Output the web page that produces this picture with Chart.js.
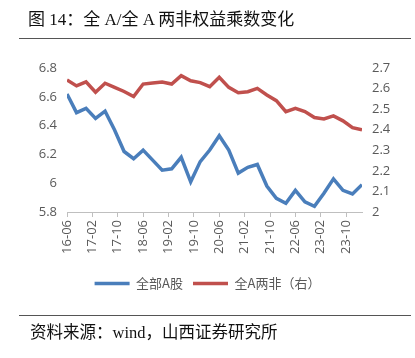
<!DOCTYPE html>
<html>
<head>
<meta charset="utf-8">
<script src="https://cdn.jsdelivr.net/npm/chart.js@4/dist/chart.umd.min.js"></script>
<style>
  html, body { margin: 0; padding: 0; background: #ffffff; }
  #wrap { position: relative; width: 415px; height: 358px; overflow: hidden; }
  #c { position: absolute; left: 0; top: 0; }
  .title { position: absolute; left: 28px; top: 8px; font-family: "Liberation Serif", "Noto Sans CJK SC", serif; font-size: 17px; color: #111; white-space: nowrap; line-height: 24px; }
  .rule { position: absolute; left: 19px; width: 392px; height: 1px; background: #555; }
  .source { position: absolute; left: 30px; top: 321px; font-family: "Liberation Serif", "Noto Sans CJK SC", serif; font-size: 16.5px; color: #111; white-space: nowrap; line-height: 24px; }
</style>
</head>
<body>
<div id="wrap">
  <canvas id="c" width="415" height="358"></canvas>
  <div class="title">图 14：全 A/全 A 两非权益乘数变化</div>
  <div class="rule" style="top:38px"></div>
  <div class="rule" style="top:315px"></div>
  <div class="source">资料来源：wind，山西证券研究所</div>
</div>
<script>
// Quarterly observation dates (YY-MM)
const dates = ['16-06','16-09','16-12','17-03','17-06','17-09','17-12','18-03','18-06','18-09','18-12','19-03',
               '19-06','19-09','19-12','20-03','20-06','20-09','20-12','21-03','21-06','21-09','21-12','22-03',
               '22-06','22-09','22-12','23-03','23-06','23-09','23-12','24-03'];
// 全部A股 (left axis)
const allA = [6.62, 6.49, 6.52, 6.45, 6.50, 6.37, 6.22, 6.17, 6.23, 6.16, 6.09, 6.10,
              6.18, 6.01, 6.15, 6.23, 6.33, 6.23, 6.07, 6.11, 6.13, 5.98, 5.895, 5.86,
              5.95, 5.87, 5.84, 5.93, 6.03, 5.95, 5.925, 5.99];
// 全A两非 (right axis)
const allAExFin = [2.642, 2.613, 2.633, 2.582, 2.626, 2.606, 2.586, 2.561, 2.622, 2.627, 2.632, 2.622,
                   2.663, 2.638, 2.629, 2.609, 2.655, 2.606, 2.580, 2.585, 2.601, 2.569, 2.541, 2.488,
                   2.504, 2.488, 2.459, 2.452, 2.467, 2.443, 2.410, 2.399];
// x-axis tick labels
const xTickLabels = ['16-06','17-02','17-10','18-06','19-02','19-10','20-06','21-02','21-10','22-06','23-02','23-10'];
const seriesNames = ['全部A股', '全A两非（右）'];

function monthIndex(s) {
  const [yy, mm] = s.split('-').map(Number);
  return (yy - 16) * 12 + (mm - 6);
}

const tickFont = { family: '"Open Sans", "Noto Sans CJK SC", sans-serif', size: 13 };
const grey = '#595959';
const fmt = v => String(Number(v.toFixed(1)));

new Chart(document.getElementById('c'), {
  type: 'line',
  data: {
    datasets: [
      {
        label: seriesNames[0],
        data: dates.map((d, i) => ({ x: monthIndex(d), y: allA[i] })),
        borderColor: '#4A7EBB', backgroundColor: '#4A7EBB',
        borderWidth: 3.5, pointRadius: 0, tension: 0, yAxisID: 'y'
      },
      {
        label: seriesNames[1],
        data: dates.map((d, i) => ({ x: monthIndex(d), y: allAExFin[i] })),
        borderColor: '#C0504D', backgroundColor: '#C0504D',
        borderWidth: 3.5, pointRadius: 0, tension: 0, yAxisID: 'y2'
      }
    ]
  },
  options: {
    responsive: false,
    animation: false,
    devicePixelRatio: 1,
    layout: { padding: { top: 68, bottom: 58, left: 0, right: 0 } },
    plugins: {
      legend: {
        position: 'bottom',
        labels: {
          usePointStyle: true, pointStyle: 'line', pointStyleWidth: 35,
          color: grey, padding: 10,
          font: { family: '"Noto Sans CJK SC", sans-serif', size: 13 }
        }
      },
      tooltip: { enabled: false }
    },
    scales: {
      x: {
        type: 'linear',
        min: monthIndex(dates[0]),
        max: monthIndex(dates[dates.length - 1]),
        afterBuildTicks: s => { s.ticks = xTickLabels.map(l => ({ value: monthIndex(l) })); },
        afterFit: s => { s.height = 55; },
        ticks: {
          autoSkip: false, minRotation: 90, maxRotation: 90, padding: 3,
          color: grey, font: tickFont,
          callback: v => { const i = xTickLabels.findIndex(l => monthIndex(l) === v); return i >= 0 ? xTickLabels[i] : ''; }
        },
        grid: { drawOnChartArea: false, drawTicks: true, tickLength: 5, color: '#bfbfbf' },
        border: { color: '#bfbfbf' }
      },
      y: {
        position: 'left', min: 5.8, max: 6.8,
        afterFit: s => { s.width = 67; },
        ticks: { stepSize: 0.2, padding: 10, color: grey, font: tickFont, callback: fmt },
        grid: { display: false, drawTicks: false },
        border: { display: false }
      },
      y2: {
        position: 'right', min: 2, max: 2.7,
        afterFit: s => { s.width = 53; },
        ticks: { stepSize: 0.1, padding: 10, color: grey, font: tickFont, callback: fmt },
        grid: { display: false, drawTicks: false },
        border: { display: false }
      }
    }
  }
});
</script>
</body>
</html>
